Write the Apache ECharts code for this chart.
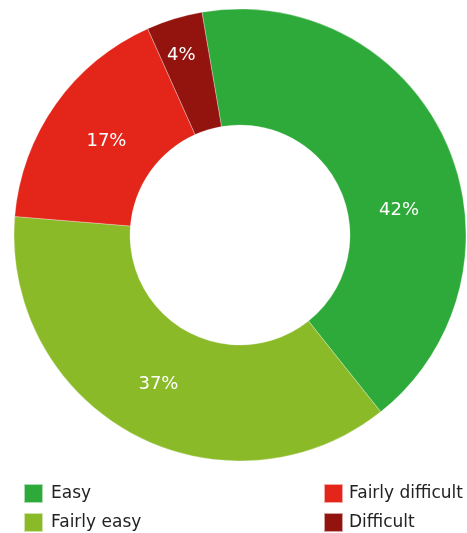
<!DOCTYPE html>
<html>
<head>
<meta charset="utf-8">
<script src="https://cdn.jsdelivr.net/npm/echarts@6/dist/echarts.min.js"></script>
<style>
  html, body { margin: 0; padding: 0; background: #fff; }
  #chart { width: 467px; height: 533px; }
</style>
</head>
<body>
<div id="chart"></div>
<script>
const categories = ['Easy', 'Fairly easy', 'Fairly difficult', 'Difficult'];
const shares = [42, 37, 17, 4];
const colors = ['#2eaa3a', '#8aba28', '#e32619', '#93130f'];
// nudges applied to the in-slice percentage labels
const labelNudge = [[3, 45], [-1, -2], [6, 5], [-9, -16]];

const chart = echarts.init(document.getElementById('chart'), null, { renderer: 'canvas' });
const font = 'DejaVu Sans';

// legend laid out as a 2x2 grid: column per pair, row per item
const legendSlots = [[23, 483, 3], [23, 512, 3], [323, 483, 1], [323, 512, 1]];

const legends = categories.map((c, i) => ({
  orient: 'horizontal',
  left: legendSlots[i][0],
  top: legendSlots[i][1],
  padding: 0,
  itemWidth: 19,
  itemHeight: 19,
  icon: 'rect',
  textStyle: { fontFamily: font, fontSize: 17, color: '#222', padding: [0, 0, 0, legendSlots[i][2]] },
  selectedMode: false,
  data: [c]
}));

chart.setOption({
  animation: false,
  color: colors,
  legend: legends,
  series: [{
    type: 'pie',
    center: [240, 235],
    radius: [110, 226],
    startAngle: 99.7,
    clockwise: true,
    itemStyle: { borderColor: 'rgba(255,255,255,0.6)', borderWidth: 0.5 },
    label: {
      position: 'inside',
      formatter: p => p.value + '%',
      color: '#fff',
      fontFamily: font,
      fontSize: 18
    },
    labelLine: { show: false },
    data: categories.map((c, i) => ({
      name: c,
      value: shares[i],
      label: { offset: labelNudge[i] }
    }))
  }]
});
</script>
</body>
</html>
